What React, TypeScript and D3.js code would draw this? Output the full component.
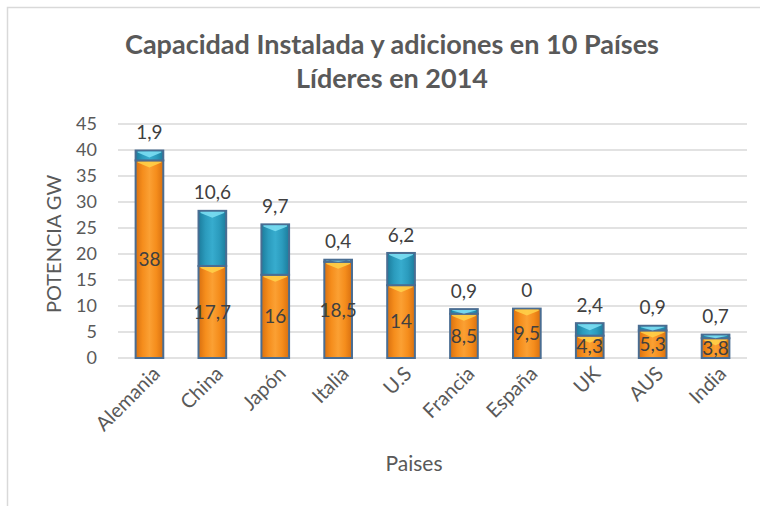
import React from 'react';
import * as d3 from 'd3';

const categories = ['Alemania', 'China', 'Japón', 'Italia', 'U.S', 'Francia', 'España', 'UK', 'AUS', 'India'];
const capacidad = [38, 17.7, 16, 18.5, 14, 8.5, 9.5, 4.3, 5.3, 3.8];
const adiciones = [1.9, 10.6, 9.7, 0.4, 6.2, 0.9, 0, 2.4, 0.9, 0.7];
const yTicks = [0, 5, 10, 15, 20, 25, 30, 35, 40, 45];

const fmt = (v: number) => String(v).replace('.', ',');

export default function App() {
  const W = 760,
    H = 506;
  const left = 118,
    right = 747,
    top = 124,
    bottom = 358;

  const x = d3.scaleBand().domain(categories).range([left, right]).paddingInner(0.56).paddingOuter(0.28);
  const y = d3.scaleLinear().domain([0, 45]).range([bottom, top]);
  const bw = x.bandwidth();
  const font = 'Lato, "Open Sans", sans-serif';

  // small lighter cap on top of each segment
  const cap = (x0: number, t: number, h: number) => {
    const d = Math.min(7, h);
    return `M${x0 + 2},${t + 1} L${x0 + bw - 2},${t + 1} L${x0 + bw - 2},${t + d * 0.3} L${x0 + bw / 2},${t + d} L${x0 + 2},${t + d * 0.3} Z`;
  };

  return (
    <svg width={W} height={H} style={{ position: 'absolute', left: 0, top: 0, background: '#fff' }} fontFamily={font}>
      <defs>
        <linearGradient id="gOr" x1="0" x2="1" y1="0" y2="0">
          <stop offset="0" stopColor="#d9700f" />
          <stop offset="0.25" stopColor="#f58d1c" />
          <stop offset="0.5" stopColor="#fba033" />
          <stop offset="0.75" stopColor="#f58d1c" />
          <stop offset="1" stopColor="#d9700f" />
        </linearGradient>
        <linearGradient id="gTe" x1="0" x2="1" y1="0" y2="0">
          <stop offset="0" stopColor="#1c7c9c" />
          <stop offset="0.25" stopColor="#2b9bbd" />
          <stop offset="0.5" stopColor="#37acce" />
          <stop offset="0.75" stopColor="#2b9bbd" />
          <stop offset="1" stopColor="#1c7c9c" />
        </linearGradient>
      </defs>

      <rect x={7.5} y={7.5} width={W} height={H} fill="none" stroke="#d9d9d9" strokeWidth={1.5} />

      <text x={392} y={54} textAnchor="middle" fontSize={27} fontWeight="bold" fill="#595959">
        Capacidad Instalada y adiciones en 10 Países
      </text>
      <text x={392} y={88} textAnchor="middle" fontSize={27} fontWeight="bold" fill="#595959">
        Líderes en 2014
      </text>

      {/* grid + y ticks */}
      {yTicks.map((t) => (
        <g key={t}>
          <line x1={left} x2={right} y1={y(t)} y2={y(t)} stroke="#d9d9d9" strokeWidth={1.5} />
          <text x={97} y={y(t)} dy="0.35em" textAnchor="end" fontSize={18} fill="#595959">
            {t}
          </text>
        </g>
      ))}

      <text
        transform={`translate(61,${(top + bottom) / 2 + 3}) rotate(-90)`}
        textAnchor="middle"
        fontSize={20}
        fill="#595959"
      >
        POTENCIA GW
      </text>

      {/* bars */}
      {categories.map((c, i) => {
        const x0 = x(c)!;
        const b0 = y(capacidad[i]);
        const b1 = y(capacidad[i] + adiciones[i]);
        const h0 = bottom - b0;
        const h1 = b0 - b1;
        return (
          <g key={c}>
            <rect x={x0} y={b0} width={bw} height={h0} fill="url(#gOr)" stroke="#4a6d92" strokeWidth={2} />
            <path d={cap(x0, b0, h0)} fill="#ffd24a" opacity={0.85} />
            {h1 > 0 && (
              <>
                <rect x={x0} y={b1} width={bw} height={h1} fill="url(#gTe)" stroke="#4a6d92" strokeWidth={2} />
                <path d={cap(x0, b1, h1)} fill="#7fe0f5" opacity={0.85} />
              </>
            )}
            <text x={x0 + bw / 2} y={y(capacidad[i] / 2)} dy="0.35em" textAnchor="middle" fontSize={19} fill="#404040">
              {fmt(capacidad[i])}
            </text>
            <text x={x0 + bw / 2} y={b1 - 18} dy="0.35em" textAnchor="middle" fontSize={19} fill="#404040">
              {fmt(adiciones[i])}
            </text>
            <text
              transform={`translate(${x0 + bw / 2 + 7},${bottom + 12}) rotate(-45)`}
              textAnchor="end"
              dy="0.35em"
              fontSize={20}
              fill="#595959"
            >
              {c}
            </text>
          </g>
        );
      })}

      <text x={414} y={471} textAnchor="middle" fontSize={21} fill="#595959">
        Paises
      </text>
    </svg>
  );
}
